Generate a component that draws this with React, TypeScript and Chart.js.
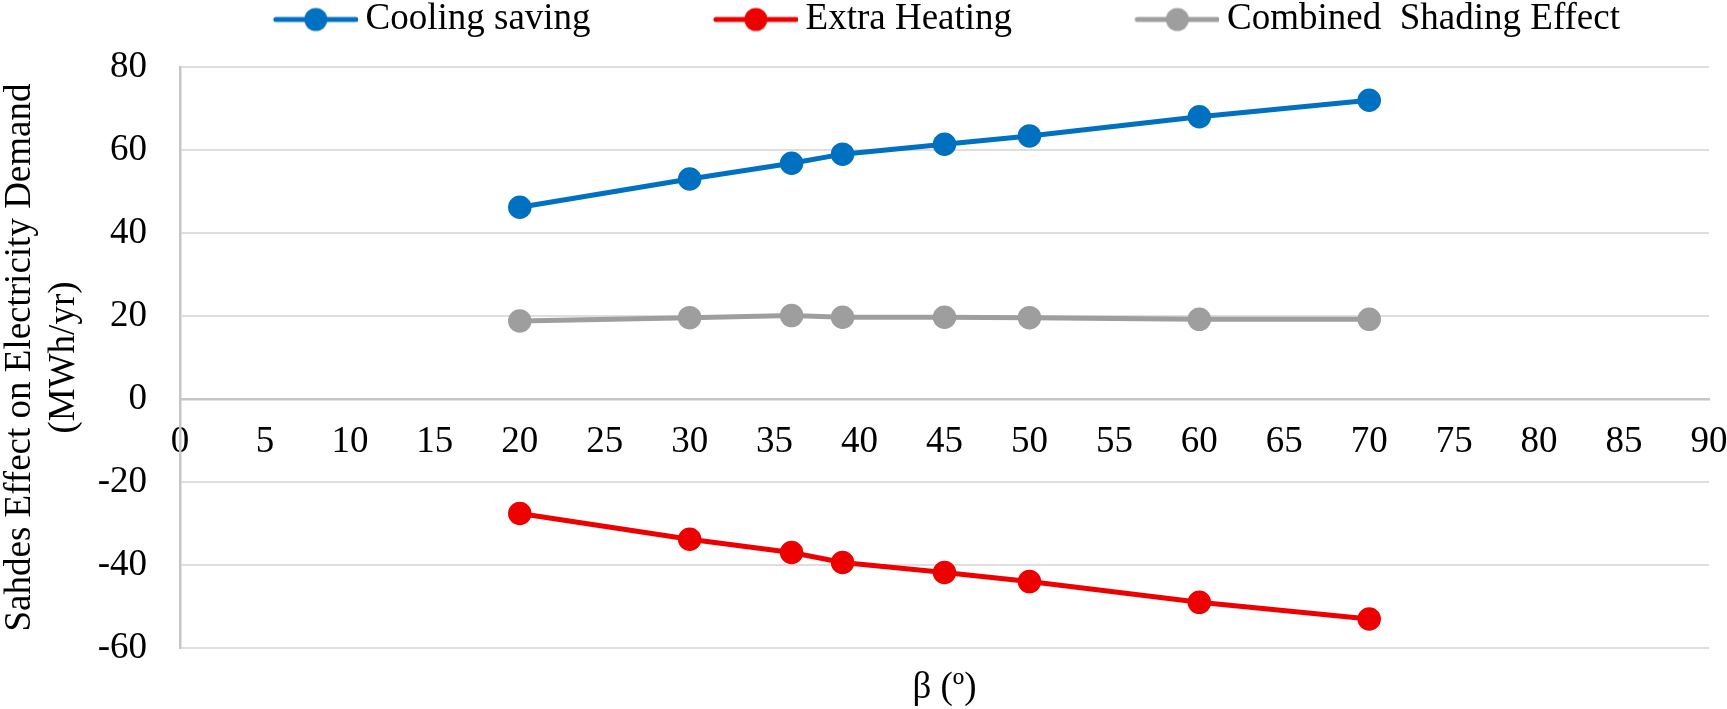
import { useEffect, useRef } from 'react';
import { Chart, registerables } from 'chart.js';

Chart.register(...registerables);

const beta = [20, 30, 36, 39, 45, 50, 60, 70];
const coolingSaving = [46.2, 53.0, 56.8, 59.0, 61.4, 63.4, 68.0, 72.0];
const extraHeating = [-27.6, -33.8, -37.0, -39.4, -41.8, -44.0, -49.0, -53.0];
const combinedShading = [18.8, 19.6, 20.1, 19.7, 19.7, 19.6, 19.2, 19.2];

const seriesNames = ['Cooling saving', 'Extra Heating', 'Combined  Shading Effect'];
const seriesColors = ['#0070c0', '#ee0000', '#9e9e9e'];
const yTitle = ['Sahdes Effect on Electricity Demand', '(MWh/yr)'];
const xTitle = 'β (º)';

const FONT = "'Liberation Serif', 'Times New Roman', serif";

// line + dot marker like the Excel legend
function legendMarker(color: string) {
  const c = document.createElement('canvas');
  c.width = 217;
  c.height = 26;
  const ctx = c.getContext('2d')!;
  ctx.strokeStyle = color;
  ctx.lineWidth = 5;
  ctx.lineCap = 'round';
  ctx.beginPath();
  ctx.moveTo(135, 13);
  ctx.lineTo(215, 13);
  ctx.stroke();
  ctx.fillStyle = color;
  ctx.beginPath();
  ctx.arc(175, 13, 11.5, 0, Math.PI * 2);
  ctx.fill();
  return c;
}

const ShadingChart = () => {
  const chartRef = useRef<HTMLCanvasElement>(null);

  useEffect(() => {
    document.body.style.margin = '0';
    document.body.style.overflow = 'hidden';
    if (!chartRef.current) return;

    const series = [coolingSaving, extraHeating, combinedShading];
    const markers = seriesColors.map(legendMarker);

    const chart = new Chart(chartRef.current, {
      type: 'line',
      data: {
        datasets: series.map((values, i) => ({
          label: seriesNames[i],
          data: beta.map((b, j) => ({ x: b, y: values[j] })),
          borderColor: seriesColors[i],
          backgroundColor: seriesColors[i],
          borderWidth: 5,
          pointRadius: 11,
          pointHoverRadius: 11,
          pointBorderWidth: 1.5,
          pointBackgroundColor: seriesColors[i],
          pointBorderColor: seriesColors[i],
          tension: 0,
          fill: false,
        })),
      },
      options: {
        animation: false,
        responsive: false,
        maintainAspectRatio: false,
        layout: { padding: { left: 44.5, top: 0, right: 0, bottom: 0 } },
        plugins: {
          tooltip: { enabled: false },
          legend: {
            position: 'top',
            align: 'center',
            fullSize: true,
            labels: {
              usePointStyle: true,
              pointStyleWidth: 195.5,
              padding: 1,
              color: '#000',
              font: { family: FONT, size: 37 },
              generateLabels: (c: any) =>
                Chart.defaults.plugins.legend.labels
                  .generateLabels(c)
                  .map((item: any, i: number) => ({ ...item, pointStyle: markers[i] })),
            },
          },
        },
        scales: {
          x: {
            type: 'linear',
            min: 0,
            max: 90,
            position: { y: 0 },
            ticks: {
              stepSize: 5,
              padding: 25,
              color: '#000',
              autoSkip: false,
              maxRotation: 0,
              font: { family: FONT, size: 37, lineHeight: 1 },
            },
            grid: { display: false, drawTicks: false },
            border: { display: true, color: '#c6c6c6', width: 2.5 },
            afterFit: (s: any) => {
              s.paddingLeft = 0;
              s.paddingRight = 18;
            },
          },
          y: {
            type: 'linear',
            min: -60,
            max: 80,
            position: 'left',
            ticks: {
              stepSize: 20,
              padding: 33,
              color: '#000',
              font: { family: FONT, size: 37 },
            },
            grid: { color: '#dedede', lineWidth: 2, drawTicks: false },
            border: { display: true, color: '#c6c6c6', width: 2.5 },
            title: {
              display: true,
              text: yTitle,
              color: '#000',
              font: { family: FONT, size: 37, lineHeight: 1.2 },
              padding: { top: -46.7, bottom: 0 },
            },
            afterFit: (s: any) => {
              s.width = 135.5;
              s.paddingTop = 0;
              s.paddingBottom = 0;
            },
          },
          xTitle: {
            type: 'linear',
            position: 'bottom',
            ticks: { display: false },
            grid: { display: false, drawTicks: false },
            border: { display: false },
            title: {
              display: true,
              text: xTitle,
              color: '#000',
              font: { family: FONT, size: 37, lineHeight: 1 },
              padding: { top: 0, bottom: 2 },
            },
            afterFit: (s: any) => {
              s.height = 61;
              s.paddingLeft = 0;
              s.paddingRight = 0;
            },
          },
          topGap: {
            type: 'linear',
            position: 'top',
            ticks: { display: false },
            grid: { display: false, drawTicks: false },
            border: { display: false },
            afterFit: (s: any) => {
              s.height = 19;
              s.paddingLeft = 0;
              s.paddingRight = 0;
            },
          },
        },
      } as any,
    });

    return () => chart.destroy();
  }, []);

  return (
    <div style={{ width: 1727, height: 709, background: '#fff' }}>
      <canvas ref={chartRef} width={1727} height={709} style={{ display: 'block' }}></canvas>
    </div>
  );
};

export default function App() {
  return <ShadingChart />;
}
